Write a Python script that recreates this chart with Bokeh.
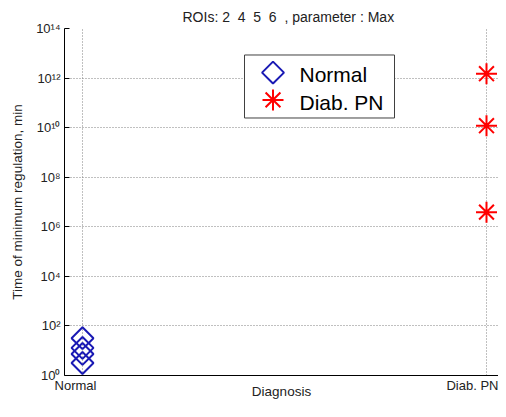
import math
from bokeh.plotting import figure
from bokeh.models import Range1d, FixedTicker, CustomJSTickFormatter
from bokeh.core.properties import value
from bokeh.embed import file_html
from bokeh.resources import INLINE

# ---- data ----
categories = ["Normal", "Diab. PN"]
category_pos = [1, 2]
normal_values = [32, 13, 7.4, 3.2]
diab_values = [1.5e12, 1.2e10, 3.9e6]
y_tick_exponents = [0, 2, 4, 6, 8, 10, 12, 14]
title_text = "ROIs: 2\u00a0 4\u00a0 5\u00a0 6\u00a0 , parameter : Max"
x_label = "Diagnosis"
y_label = "Time of minimum regulation, min"

# ---- layout ----
W, H = 498, 401
FL, FT, FR, FB = 64, 28, 0, 23
FW = W - FL - FR
FH = H - FT - FB
PX_PER_CAT = 404
X0 = 1 - 18 / PX_PER_CAT
X1 = X0 + FW / PX_PER_CAT
Y0, Y1 = 1.0, 1e14
FONT = "Liberation Sans"
TXT = "#222222"
BLUE = "#1a1ab4"
RED = "#ff0000"
LABEL_SHIFT_PX = 7

p = figure(width=W, height=H, output_backend="svg", toolbar_location=None,
           y_axis_type="log", x_range=Range1d(X0, X1), y_range=Range1d(Y0, Y1),
           min_border_left=FL, min_border_right=FR, min_border_top=FT,
           min_border_bottom=FB, background_fill_color="white",
           border_fill_color="white", outline_line_color=None)

p.title.text = title_text
p.title.align = "left"
p.title.offset = 118
p.title.standoff = 8
p.title.text_font = FONT
p.title.text_font_size = "14px"
p.title.text_font_style = "normal"
p.title.text_color = TXT

# axes
shift = LABEL_SHIFT_PX / PX_PER_CAT
xa = p.xaxis[0]
xa.ticker = FixedTicker(ticks=[c - shift for c in category_pos])
xa.formatter = CustomJSTickFormatter(args=dict(labels=categories),
                                     code="return labels[index];")
xa.major_tick_line_color = None
ya = p.yaxis[0]
ya.ticker = FixedTicker(ticks=[10.0 ** e for e in y_tick_exponents])
ya.formatter = CustomJSTickFormatter(code="""
const sup = {"0":"\u2070","1":"\u00b9","2":"\u00b2","3":"\u00b3","4":"\u2074",
             "5":"\u2075","6":"\u2076","7":"\u2077","8":"\u2078","9":"\u2079","-":"\u207b"};
const e = Math.round(Math.log10(tick));
return "10" + String(e).split("").map(c => sup[c]).join("");
""")
ya.major_tick_line_color = "black"
xa.axis_label = x_label
ya.axis_label = y_label
for ax in (xa, ya):
    ax.axis_line_color = "black"
    ax.axis_line_width = 1
    ax.major_tick_in = 5
    ax.major_tick_out = 0
    ax.minor_tick_line_color = None
    ax.major_label_text_font = FONT
    ax.major_label_text_font_size = "13px"
    ax.major_label_text_color = TXT
    ax.axis_label_text_font = FONT
    ax.axis_label_text_font_size = "13.5px"
    ax.axis_label_text_font_style = "normal"
    ax.axis_label_text_color = TXT
xa.major_label_standoff = 2
xa.axis_label_text_line_height = 0.55
xa.axis_label_standoff = -12
ya.major_label_standoff = 4
ya.axis_label_standoff = 8

p.xgrid[0].ticker = FixedTicker(ticks=category_pos)
for g in (p.xgrid[0], p.ygrid[0]):
    g.grid_line_color = "#808080"
    g.grid_line_dash = "1 2"
    g.grid_line_width = 1

# data marks
p.scatter([category_pos[0]] * len(normal_values), normal_values, marker="square",
          angle=math.pi / 4, size=15.5, fill_color=None, line_color=BLUE, line_width=2)
p.scatter([category_pos[1]] * len(diab_values), diab_values, marker="asterisk",
          size=21, line_color=RED, line_width=2)

# legend (drawn manually so marker sizes match)
def sx_to_x(sx):
    return X0 + (sx - FL) / FW * (X1 - X0)

def sy_to_y(sy):
    ly0, ly1 = math.log10(Y0), math.log10(Y1)
    return 10 ** (ly0 + (FT + FH - sy) / FH * (ly1 - ly0))

box_l, box_t, box_r, box_b = 244, 55, 394, 118
p.rect([sx_to_x((box_l + box_r) / 2)], [sy_to_y((box_t + box_b) / 2)],
       width=box_r - box_l, height=box_b - box_t, width_units="screen",
       height_units="screen", fill_color="white", line_color="#404040", line_width=1)
mark_y = [72.5, 100]
text_y = [74, 103]
mark_x = 272.5
p.scatter([sx_to_x(mark_x)], [sy_to_y(mark_y[0])], marker="square", angle=math.pi / 4,
          size=15.5, fill_color=None, line_color=BLUE, line_width=2)
p.scatter([sx_to_x(mark_x)], [sy_to_y(mark_y[1])], marker="asterisk",
          size=21, line_color=RED, line_width=2)
p.text([sx_to_x(299)] * 2, [sy_to_y(y) for y in text_y], text=categories,
       text_font=value(FONT), text_font_size="21px", text_color="black",
       text_baseline="middle", text_align="left")

open("out.html", "w").write(file_html(p, INLINE))
